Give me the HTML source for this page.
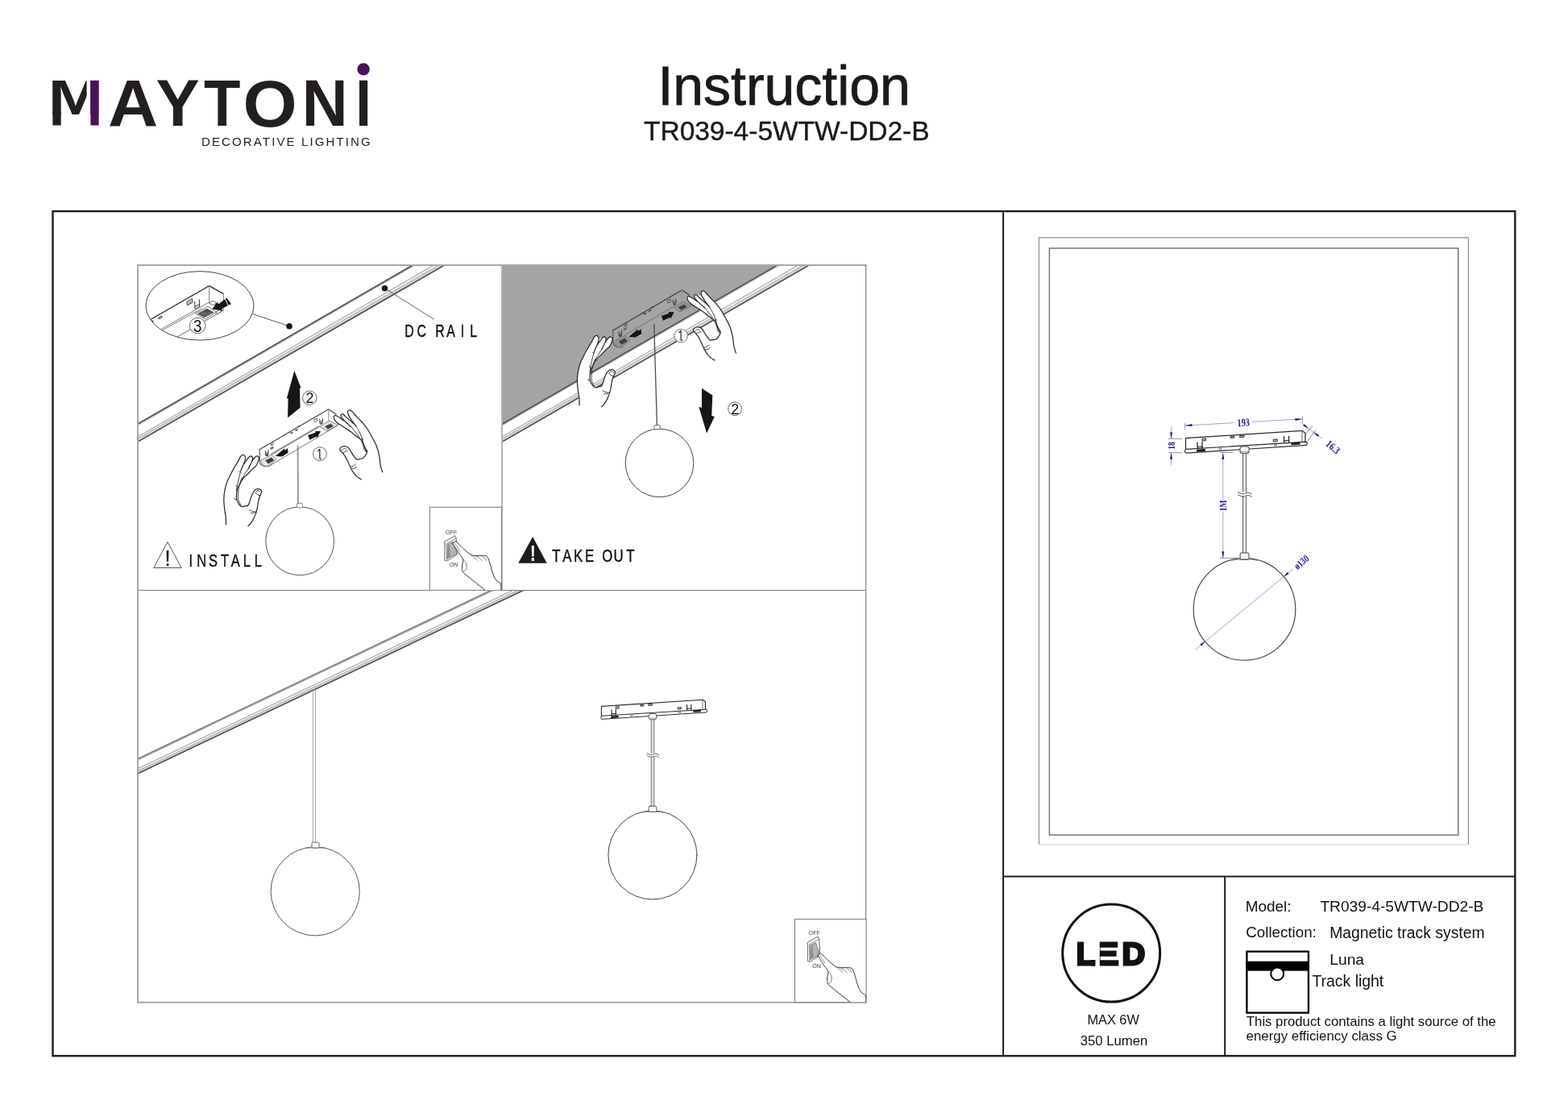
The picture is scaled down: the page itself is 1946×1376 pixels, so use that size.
<!DOCTYPE html>
<html lang="en"><head><meta charset="utf-8"><title>Maytoni Instruction TR039-4-5WTW-DD2-B</title>
<style>
html,body{margin:0;padding:0;background:#fff;}
body{width:1946px;height:1376px;overflow:hidden;font-family:"Liberation Sans",sans-serif;}
svg{display:block;position:absolute;left:0;top:0;will-change:transform;}
</style></head><body>
<svg width="1946" height="1376" viewBox="0 0 1946 1376" font-family='"Liberation Sans", sans-serif'>
<g id="logo">
<text font-family='"Liberation Sans", sans-serif' font-weight="700" fill="#231f20"><tspan x="59.68" y="141.90" font-size="61.01" textLength="68.08" lengthAdjust="spacingAndGlyphs">M</tspan><tspan x="133.92" y="155.50" font-size="80.72" textLength="62.15" lengthAdjust="spacingAndGlyphs">A</tspan><tspan x="193.47" y="155.50" font-size="80.72" textLength="54.32" lengthAdjust="spacingAndGlyphs">Y</tspan><tspan x="252.96" y="155.50" font-size="80.72" textLength="45.46" lengthAdjust="spacingAndGlyphs">T</tspan><tspan x="301.54" y="156.70" font-size="82.17" textLength="67.24" lengthAdjust="spacingAndGlyphs">O</tspan><tspan x="374.78" y="155.50" font-size="80.72" textLength="56.90" lengthAdjust="spacingAndGlyphs">N</tspan><tspan x="441.15" y="155.50" font-size="80.72" textLength="19.66" lengthAdjust="spacingAndGlyphs">I</tspan></text>
<rect x="65.4" y="138" width="10.3" height="17.5" fill="#231f20"/>
<rect x="107.6" y="99.3" width="4.6" height="57" fill="#fff"/>
<rect x="112.4" y="99.8" width="10.2" height="55.7" fill="#4b1259"/>
<circle cx="451.1" cy="85.9" r="7.7" fill="#4b1259"/>
<text x="249.99" y="181.00" font-family='"Liberation Sans", sans-serif' font-weight="400" font-size="15.07" letter-spacing="2.091" fill="#231f20" >DECORATIVE LIGHTING</text>
</g>
<text x="816.39" y="129.70" font-family='"Liberation Sans", sans-serif' font-weight="400" font-size="67.94" fill="#1a1a1a" stroke="#1a1a1a" stroke-width="0.8">Instruction</text>
<text x="799.03" y="173.60" font-family='"Liberation Sans", sans-serif' font-weight="400" font-size="33.47" fill="#1a1a1a" stroke="#1a1a1a" stroke-width="0.4">TR039-4-5WTW-DD2-B</text>
<rect x="65.5" y="262.1" width="1814.8" height="1048.0" fill="none" stroke="#1c1c1c" stroke-width="2.4"/>
<line x1="1245.1" y1="262" x2="1245.1" y2="1310" stroke="#1c1c1c" stroke-width="2"/>
<line x1="1245" y1="1087.6" x2="1880" y2="1087.6" stroke="#1c1c1c" stroke-width="2"/>
<line x1="1520.2" y1="1087.6" x2="1520.2" y2="1310" stroke="#1c1c1c" stroke-width="2"/>
<path d="M1289.5 1047.9 V294.9 H1822.4 V1047.9" fill="none" stroke="#8a8a8a" stroke-width="1.1"/>
<path d="M1289.5 1047.9 H1822.4" fill="none" stroke="#dcdcdc" stroke-width="1.1"/>
<rect x="1302.4" y="308" width="507.4" height="728" fill="none" stroke="#777" stroke-width="1.5"/>
<circle cx="1379.2" cy="1182.6" r="60.5" fill="none" stroke="#111" stroke-width="3"/>
<text font-family='"Liberation Sans", sans-serif' font-weight="700" fill="#111" stroke="#111" stroke-width="2.8" stroke-linejoin="miter"><tspan x="1335.85" y="1196.80" font-size="38.12" textLength="23.12" lengthAdjust="spacingAndGlyphs">L</tspan><tspan x="1351.97" y="1196.80" font-size="38.12" textLength="36.45" lengthAdjust="spacingAndGlyphs">E</tspan><tspan x="1392.51" y="1196.80" font-size="38.12" textLength="28.77" lengthAdjust="spacingAndGlyphs">D</tspan></text>
<path d="M1352.5 1165 H1364.8 V1201 H1359.5 V1191.1 H1352.5 Z" fill="#fff"/>
<text x="1349.39" y="1271.00" font-family='"Liberation Sans", sans-serif' font-weight="400" font-size="16.37" fill="#111" >MAX 6W</text>
<text x="1340.73" y="1296.50" font-family='"Liberation Sans", sans-serif' font-weight="400" font-size="16.73" fill="#111" >350 Lumen</text>
<text x="1545.68" y="1130.60" font-family='"Liberation Sans", sans-serif' font-weight="400" font-size="18.94" fill="#111" >Model:</text>
<text x="1638.42" y="1130.90" font-family='"Liberation Sans", sans-serif' font-weight="400" font-size="19.16" fill="#111" >TR039-4-5WTW-DD2-B</text>
<text x="1546.26" y="1163.30" font-family='"Liberation Sans", sans-serif' font-weight="400" font-size="18.76" fill="#111" >Collection:</text>
<text x="1650.25" y="1163.80" font-family='"Liberation Sans", sans-serif' font-weight="400" font-size="19.34" fill="#111" >Magnetic track system</text>
<text x="1650.26" y="1196.50" font-family='"Liberation Sans", sans-serif' font-weight="400" font-size="19.25" fill="#111" >Luna</text>
<text x="1628.41" y="1224.00" font-family='"Liberation Sans", sans-serif' font-weight="400" font-size="19.43" fill="#111" >Track light</text>
<text x="1546.87" y="1272.90" font-family='"Liberation Sans", sans-serif' font-weight="400" font-size="16.74" fill="#111" >This product contains a light source of the</text>
<text x="1546.53" y="1290.60" font-family='"Liberation Sans", sans-serif' font-weight="400" font-size="16.87" fill="#111" >energy efficiency class G</text>
<rect x="1547.4" y="1180.6" width="76.5" height="76" fill="#fff" stroke="#000" stroke-width="2.3"/>
<rect x="1546.2" y="1192.7" width="78.8" height="11.9" fill="#000"/>
<circle cx="1585.2" cy="1208.3" r="7.9" fill="#fff" stroke="#000" stroke-width="2"/>
<defs>
<clipPath id="cp1"><rect x="171" y="329" width="451.4" height="403.4"/></clipPath>
<clipPath id="cp2"><rect x="622.4" y="329" width="452.4" height="403.4"/></clipPath>
<clipPath id="cp3"><rect x="171" y="732.4" width="903.8" height="511.3"/></clipPath>





</defs>
<g clip-path="url(#cp1)">
<g><polygon points="131.0,565.0 578.2,305.8 591.6,306.0 131.0,571.1" fill="#eef0f2"/>
<polygon points="131.0,567.5 584.5,305.9 591.6,306.0 131.0,571.1" fill="#d2d5da"/>
<line x1="131.0" y1="550.8" x2="551.8" y2="307.8" stroke="#c9c9c9" stroke-width="1.5"/>
<line x1="131.0" y1="549.2" x2="551.8" y2="306.2" stroke="#505050" stroke-width="1.7"/>
<line x1="131.0" y1="565.0" x2="578.2" y2="305.8" stroke="#9a9a9a" stroke-width="1.0"/>
<line x1="131.0" y1="567.5" x2="584.5" y2="305.9" stroke="#a6a8ab" stroke-width="1.0"/>
<line x1="131.0" y1="571.1" x2="591.6" y2="306.0" stroke="#4a4a4a" stroke-width="1.6"/></g>
</g>
<g clip-path="url(#cp1)">
<clipPath id="cpe"><ellipse cx="248" cy="379.35" rx="66.5" ry="42.2"/></clipPath>
<g clip-path="url(#cpe)" fill="none" stroke-linecap="round" stroke-linejoin="round">
<path d="M180.4 400.1 L259.6 354.6 L277.4 364.6" stroke="#333" stroke-width="1.3"/>
<path d="M259.6 354.6 L259.6 376.4" stroke="#8a8a8a" stroke-width="1.1"/>
<path d="M277.4 364.6 L277.4 385.3" stroke="#8a8a8a" stroke-width="1.1"/>
<path d="M200.4 408.2 L258.9 375.3" stroke="#666" stroke-width="0.9"/>
<path d="M201.5 409.7 L250.0 383.1" stroke="#666" stroke-width="0.9"/>
<path d="M217.4 419.5 L276.6 385.4" stroke="#555" stroke-width="0.9"/>
<ellipse cx="264.1" cy="375.8" rx="3.6" ry="2.2" stroke="#999" stroke-width="1.3"/>
<path d="M243.0 388.6 L257.8 380.5 L269.2 387.1 L254.8 395.8 Z" stroke="#666" stroke-width="0.9" fill="#fff"/>
<path d="M245.9 389.1 L257.0 383.2 L265.2 387.6 L253.8 393.8 Z" stroke="#333" stroke-width="0.6" fill="#4a4a4a"/>
<path d="M248.9 387.5 L254.1 392.3" stroke="#ddd" stroke-width="0.5"/>
<path d="M252.0 387.5 L257.2 392.3" stroke="#ddd" stroke-width="0.5"/>
<path d="M255.1 387.5 L260.3 392.3" stroke="#ddd" stroke-width="0.5"/>
<path d="M258.2 387.5 L263.4 392.3" stroke="#ddd" stroke-width="0.5"/>
<path d="M261.3 387.5 L266.5 392.3" stroke="#ddd" stroke-width="0.5"/>
<path d="M267.8 387.1 L272.9 383.8 L275.2 385.3 L270.7 389.0 Z" stroke="#444" stroke-width="0.8" fill="#fff"/>
<path d="M263.2 383.6 L269.4 374.9 L271.5 377.3 L281.4 369.4 L286.8 376.9 L275.5 383.1 L276.0 385.4 Z" fill="#151515" stroke="none"/>
<path d="M279.4 371.1 L283.4 379.4" stroke="#fff" stroke-width="1.0"/>
<path d="M241.6 374.5 L242.0 383.1 L247.6 380.5 L247.3 371.6" stroke="#333" stroke-width="1.0"/>
<path d="M241.9 380.1 L247.5 377.9" stroke="#333" stroke-width="1.0"/>
<path d="M232.4 373.8 L238.5 370.6 L238.7 375.7 L232.6 378.6 Z" stroke="#333" stroke-width="1.0"/>
<path d="M234.5 374.5 L236.8 373.4 L237.0 375.3 L234.6 376.4 Z" stroke="#444" stroke-width="0.7"/>
<path d="M196.9 394.0 L200.8 391.9 L201.0 393.8 L197.1 395.6 Z" stroke="#333" stroke-width="1.0"/>
<path d="M188.6 397.9 L190.1 399.0" stroke="#333" stroke-width="1.5"/>
</g>
<ellipse cx="248" cy="379.35" rx="67" ry="42.75" fill="none" stroke="#444" stroke-width="1"/>
<circle cx="245.2" cy="404.1" r="9.8" fill="#fff" stroke="#555" stroke-width="0.9"/>
<text transform="translate(239.83,411.90) scale(0.8693,1)" font-family='"Liberation Sans", sans-serif' font-weight="400" font-size="22.03" fill="#111" >3</text>
<line x1="313.5" y1="389.5" x2="359" y2="404.7" stroke="#444" stroke-width="0.9"/>
<circle cx="359" cy="404.7" r="3.8" fill="#161616"/>
<line x1="477.5" y1="357.7" x2="538.6" y2="396.2" stroke="#555" stroke-width="0.9"/>
<circle cx="477.5" cy="357.7" r="3.7" fill="#161616"/>
<text transform="translate(507.88,417.50) scale(0.7075,1)" x="0.00 21.85 28.92 53.99 73.04 93.29 112.90" text-anchor="middle" font-family='"Liberation Sans", sans-serif' font-weight="400" font-size="22.46" fill="#111" stroke="#111" stroke-width="0.45" xml:space="preserve">DC RAIL</text>
<polygon points="365.3,460.1 373.6,481.6 372.0,481.6 372.6,505.8 357.1,518.2 357.6,494.4 355.8,494.6" fill="#161616"/>
<circle cx="384.3" cy="493.8" r="8.7" fill="#fff" stroke="#555" stroke-width="0.9"/>
<text transform="translate(379.41,500.20) scale(0.9762,1)" font-family='"Liberation Sans", sans-serif' font-weight="400" font-size="18.26" fill="#111" >2</text>
<line x1="369.6" y1="553" x2="369.9" y2="625" stroke="#9b9b9b" stroke-width="2"/>
<circle cx="372.2" cy="671.3" r="42.4" fill="#fff" stroke="#555" stroke-width="1"/>
<rect x="368.4" y="624.4" width="7" height="5.6" rx="1" fill="#fff" stroke="#777" stroke-width="0.9"/>
<g fill="none" stroke-linecap="round" stroke-linejoin="round">
<path d="M322.1 557.8 L407.8 507.8 L417.0 514.0" stroke="#4a4a4a" stroke-width="1.3"/>
<path d="M322.1 557.8 L322.4 574.2 L324.1 576.8 L328.0 578.6 L333.9 578.3" stroke="#555" stroke-width="1.1"/>
<path d="M407.8 507.8 L407.8 521.9" stroke="#999" stroke-width="1.2"/>
<path d="M337.2 563.4 L395.4 529.4" stroke="#8a8a8a" stroke-width="1.8"/>
<path d="M323.4 571.3 L337.2 564.1 L343.0 569.9 L333.2 578.6 L327.4 578.3 Z" stroke="#777" stroke-width="0.9" fill="#000" fill-opacity="0.1"/>
<path d="M329.6 571.3 L336.8 567.7 L340.1 571.3 L332.9 575.2 Z" fill="#3c3c3c" stroke="#555" stroke-width="0.6"/>
<path d="M396.7 528.7 L409.1 522.2 L419.6 527.4 L405.8 534.6 Z" stroke="#777" stroke-width="0.9" fill="#000" fill-opacity="0.1"/>
<path d="M403.5 529.1 L410.4 525.8 L413.7 528.7 L406.8 532.3 Z" fill="#3c3c3c" stroke="#555" stroke-width="0.6"/>
<path d="M341.7 566.0 L352.9 556.4 L353.6 558.8 L356.8 555.9 L357.6 561.8 L350.2 566.5 Z" fill="#151515" stroke="none"/>
<path d="M398.0 535.1 L391.1 535.0 L391.6 536.7 L382.2 540.0 L384.3 545.7 L392.9 541.7 L393.8 543.1 Z" fill="#151515" stroke="none"/>
<path d="M336.6 549.7 L336.6 552.8 L339.0 552.0 L339.0 549.0" stroke="#444" stroke-width="0.9"/>
<path d="M329.4 559.5 L329.7 565.0" stroke="#444" stroke-width="0.9"/>
<path d="M332.9 557.8 L333.1 563.4" stroke="#444" stroke-width="0.9"/>
<path d="M329.7 562.4 L333.1 560.9" stroke="#444" stroke-width="0.9"/>
<path d="M396.7 519.9 L396.9 525.1" stroke="#444" stroke-width="0.9"/>
<path d="M400.3 518.6 L400.5 523.5" stroke="#444" stroke-width="0.9"/>
<path d="M396.9 522.9 L400.5 521.5" stroke="#444" stroke-width="0.9"/>
<path d="M335.3 555.6 L339.5 553.7 L339.6 556.2 L335.5 558.2 Z" fill="#666" stroke="none"/>
<path d="M330.0 563.4 L332.9 562.1 L333.0 565.4 L330.1 566.3 Z" fill="#444" stroke="none"/>
<path d="M397.2 524.2 L400.3 522.9 L400.5 525.8 L397.3 526.8 Z" fill="#555" stroke="none"/>
<path d="M360.8 537.6 L363.0 536.6" stroke="#333" stroke-width="1.3"/>
<path d="M366.9 534.1 L369.1 532.7" stroke="#333" stroke-width="1.3"/>
<path d="M370.2 529.3 L371.8 528.7" stroke="#333" stroke-width="1.3"/>
<path d="M357.8 536.6 L359.4 535.9" stroke="#333" stroke-width="1.0"/>
<ellipse cx="391.9" cy="521.4" rx="2.4" ry="1.6" transform="rotate(-30 391.9 521.4)" stroke="#555" stroke-width="0.9"/>
</g><g fill="none">
<path d="M333.9 578.3 L419.6 527.6" stroke="#777" stroke-width="1.0"/>
</g>
<g>
<path d="M280.4 650.6 L280.3 642.2 L278.7 631.8 L277.8 619.8 L278.6 610.3 L281.4 599.1 L285.4 590.3 L291.0 579.9 L295.8 571.9 L298.8 566.1 L301.0 564.3 L303.4 565.1 L304.6 567.9 L303.9 571.9 L301.8 577.1 L299.0 583.9 L312.6 572.3 L316.6 567.2 L319.4 565.9 L321.4 567.7 L320.7 571.9 L317.8 577.9 L313.4 581.9 L307.4 588.3 L301.0 594.3 L297.0 602.3 L294.3 607.5 L293.5 618.2 L295.0 623.0 L297.8 627.0 L300.6 628.8 L304.6 627.7 L307.9 627.0 L310.2 621.4 L312.6 614.2 L315.8 608.8 L319.1 606.7 L323.0 607.1 L324.7 609.3 L323.9 612.6 L321.5 618.2 L320.2 624.6 L319.0 631.8 L317.4 637.4 L315.0 643.0 L311.8 648.6 L307.9 652.6 Z" fill="#fff"/>
<path d="M303.0 575.5 C303.5 574.7 305.1 572.1 306.2 570.7 C307.2 569.2 308.5 567.5 309.4 566.7 C310.2 565.9 310.7 565.7 311.4 565.8 C312.0 565.9 313.1 566.6 313.4 567.5 C313.7 568.4 313.6 569.7 313.2 571.1 C312.8 572.5 311.8 574.1 311.0 575.9 C310.1 577.6 308.6 580.5 308.2 581.5 Z" fill="#fff"/>
<path d="M299.0 583.9 L301.8 577.1 L304.6 567.9 L309.4 566.7 L313.4 567.5 L312.6 572.3 L308.2 581.5 L303.0 589.5 Z" fill="#fff"/>
<path d="M280.4 650.6 C280.4 649.2 280.6 645.4 280.3 642.2 C280.0 639.1 279.1 635.6 278.7 631.8 C278.3 628.1 277.8 623.4 277.8 619.8 C277.8 616.2 278.0 613.7 278.6 610.3 C279.2 606.8 280.3 602.4 281.4 599.1 C282.5 595.7 283.8 593.5 285.4 590.3 C287.0 587.1 289.2 582.9 291.0 579.9 C292.7 576.8 294.5 574.2 295.8 571.9 C297.1 569.6 297.9 567.4 298.8 566.1 C299.7 564.9 300.2 564.5 301.0 564.3 C301.7 564.1 302.8 564.5 303.4 565.1 C304.0 565.7 304.5 566.8 304.6 567.9 C304.7 569.0 304.4 570.3 303.9 571.9 C303.5 573.4 302.6 575.1 301.8 577.1 C300.9 579.1 299.4 582.7 299.0 583.9" fill="none" stroke="#2a2a2a" stroke-width="1.25" stroke-linecap="round" stroke-linejoin="round"/>
<path d="M303.0 575.5 C303.5 574.7 305.1 572.1 306.2 570.7 C307.2 569.2 308.5 567.5 309.4 566.7 C310.2 565.9 310.7 565.7 311.4 565.8 C312.0 565.9 313.1 566.6 313.4 567.5 C313.7 568.4 313.6 569.7 313.2 571.1 C312.8 572.5 311.8 574.1 311.0 575.9 C310.1 577.6 308.6 580.5 308.2 581.5" fill="none" stroke="#2a2a2a" stroke-width="1.25" stroke-linecap="round" stroke-linejoin="round"/>
<path d="M312.6 572.3 C313.2 571.4 315.4 568.3 316.6 567.2 C317.7 566.2 318.6 565.8 319.4 565.9 C320.2 566.0 321.1 566.7 321.4 567.7 C321.6 568.7 321.3 570.2 320.7 571.9 C320.1 573.6 319.0 576.2 317.8 577.9 C316.5 579.5 315.1 580.1 313.4 581.9 C311.6 583.6 309.4 586.2 307.4 588.3 C305.3 590.3 302.7 591.9 301.0 594.3 C299.2 596.6 298.1 600.1 297.0 602.3 C295.9 604.5 294.9 604.8 294.3 607.5 C293.8 610.1 293.4 615.6 293.5 618.2 C293.6 620.8 294.3 621.6 295.0 623.0 C295.7 624.5 296.8 626.1 297.8 627.0 C298.7 628.0 299.4 628.7 300.6 628.8 C301.7 628.9 303.3 628.0 304.6 627.7 C305.8 627.4 307.0 628.1 307.9 627.0 C308.9 626.0 309.4 623.6 310.2 621.4 C310.9 619.3 311.6 616.4 312.6 614.2 C313.5 612.1 314.7 610.1 315.8 608.8 C316.8 607.5 317.9 606.9 319.1 606.7 C320.3 606.4 322.0 606.6 323.0 607.1 C323.9 607.5 324.5 608.4 324.7 609.3 C324.9 610.2 324.4 611.2 323.9 612.6 C323.4 614.1 322.1 616.2 321.5 618.2 C320.9 620.2 320.7 622.4 320.2 624.6 C319.8 626.9 319.4 629.7 319.0 631.8 C318.5 634.0 318.0 635.6 317.4 637.4 C316.7 639.3 315.9 641.2 315.0 643.0 C314.0 644.9 312.9 647.0 311.8 648.6 C310.6 650.2 308.6 652.0 307.9 652.6" fill="none" stroke="#2a2a2a" stroke-width="1.25" stroke-linecap="round" stroke-linejoin="round"/>
<path d="M299.0 583.9 C298.6 585.3 297.3 589.5 296.6 592.7 C295.8 595.9 294.8 600.4 294.3 603.1 C293.8 605.7 293.7 607.7 293.5 608.7" fill="none" stroke="#2a2a2a" stroke-width="0.9" stroke-linecap="round"/>
<path d="M308.2 581.5 C307.3 582.8 304.5 587.1 303.0 589.5 C301.4 591.9 300.0 593.6 299.0 595.9 C297.9 598.1 297.1 600.5 296.6 603.1 C296.0 605.6 295.9 608.3 295.8 611.0 C295.6 613.8 295.2 617.2 295.8 619.8 C296.3 622.4 298.4 625.5 299.0 626.6" fill="none" stroke="#2a2a2a" stroke-width="0.9" stroke-linecap="round"/>
<path d="M297.0 585.1 L299.0 586.1" fill="none" stroke="#2a2a2a" stroke-width="0.9" stroke-linecap="round"/>
<path d="M299.6 593.9 L301.8 595.1" fill="none" stroke="#2a2a2a" stroke-width="0.9" stroke-linecap="round"/>
<path d="M292.7 602.4 L294.6 603.9" fill="none" stroke="#2a2a2a" stroke-width="0.9" stroke-linecap="round"/>
<path d="M290.8 618.9 L293.8 620.2" fill="none" stroke="#2a2a2a" stroke-width="0.9" stroke-linecap="round"/>
<path d="M318.6 612.8 L322.8 615.2" fill="none" stroke="#2a2a2a" stroke-width="0.9" stroke-linecap="round"/>
<path d="M317.4 611.8 C317.6 611.3 318.2 609.0 319.1 608.7 C320.0 608.3 322.2 609.7 322.8 609.9" fill="none" stroke="#2a2a2a" stroke-width="0.9" stroke-linecap="round"/>
<path d="M309.4 632.5 C310.0 632.8 312.0 634.2 313.4 634.6 C314.8 635.1 317.0 635.1 317.8 635.2" fill="none" stroke="#2a2a2a" stroke-width="0.9" stroke-linecap="round"/>
<path d="M311.1 636.8 C311.7 636.7 313.4 636.7 314.3 636.5 C315.3 636.2 316.3 635.6 316.7 635.4" fill="none" stroke="#2a2a2a" stroke-width="0.9" stroke-linecap="round"/>
</g><g>
<path d="M474.7 585.8 L472.3 577.8 L470.7 565.8 L467.5 553.9 L461.9 542.7 L455.5 531.5 L449.1 523.5 L442.7 517.1 L437.9 511.6 L435.0 509.1 L432.6 509.3 L431.4 511.3 L432.6 515.1 L436.2 521.2 L441.4 528.1 L426.6 521.9 L421.8 518.5 L417.9 516.0 L415.4 515.6 L414.2 517.5 L415.4 521.1 L418.6 524.7 L426.6 529.9 L436.2 536.3 L442.6 541.5 L447.4 545.2 L449.9 549.1 L452.3 553.9 L455.5 560.3 L453.9 564.2 L451.4 567.6 L449.0 569.0 L445.8 569.6 L442.6 570.0 L440.2 567.4 L437.0 562.6 L434.6 558.7 L432.2 555.6 L429.6 554.0 L425.8 553.9 L423.1 555.1 L421.8 557.5 L423.1 559.9 L425.8 562.6 L429.0 567.4 L432.2 573.8 L435.4 581.0 L439.4 587.4 L443.4 591.8 L448.3 594.8 Z" fill="#fff"/>
<path d="M439.4 525.9 C438.6 525.2 436.3 523.4 434.6 521.9 C432.8 520.4 430.4 518.3 429.0 516.9 C427.5 515.6 426.8 514.4 425.9 513.9 C425.1 513.4 424.3 513.7 423.8 514.0 C423.3 514.4 422.8 515.1 423.0 516.0 C423.2 516.9 423.8 518.1 425.0 519.5 C426.1 520.9 427.9 522.5 429.8 524.3 C431.6 526.0 435.1 528.9 436.2 529.9 Z" fill="#fff"/>
<path d="M441.4 528.1 L436.2 521.2 L432.6 515.1 L426.6 513.9 L425.0 519.5 L429.8 524.3 L436.2 529.9 L442.6 537.9 L447.4 545.1 L449.0 542.7 Z" fill="#fff"/>
<path d="M474.7 585.8 C474.3 584.5 473.0 581.2 472.3 577.8 C471.6 574.5 471.5 569.8 470.7 565.8 C469.9 561.8 469.0 557.7 467.5 553.9 C466.0 550.0 463.9 546.4 461.9 542.7 C459.9 538.9 457.6 534.7 455.5 531.5 C453.4 528.3 451.2 525.9 449.1 523.5 C447.0 521.1 444.6 519.1 442.7 517.1 C440.9 515.1 439.2 513.0 437.9 511.6 C436.6 510.3 435.9 509.5 435.0 509.1 C434.1 508.7 433.2 508.9 432.6 509.3 C432.0 509.6 431.4 510.4 431.4 511.3 C431.4 512.3 431.8 513.4 432.6 515.1 C433.4 516.7 434.7 519.1 436.2 521.2 C437.6 523.4 440.5 527.0 441.4 528.1" fill="none" stroke="#2a2a2a" stroke-width="1.25" stroke-linecap="round" stroke-linejoin="round"/>
<path d="M439.4 525.9 C438.6 525.2 436.3 523.4 434.6 521.9 C432.8 520.4 430.4 518.3 429.0 516.9 C427.5 515.6 426.8 514.4 425.9 513.9 C425.1 513.4 424.3 513.7 423.8 514.0 C423.3 514.4 422.8 515.1 423.0 516.0 C423.2 516.9 423.8 518.1 425.0 519.5 C426.1 520.9 427.9 522.5 429.8 524.3 C431.6 526.0 435.1 528.9 436.2 529.9" fill="none" stroke="#2a2a2a" stroke-width="1.25" stroke-linecap="round" stroke-linejoin="round"/>
<path d="M426.6 521.9 C425.8 521.3 423.2 519.5 421.8 518.5 C420.3 517.5 419.0 516.4 417.9 516.0 C416.9 515.5 416.0 515.4 415.4 515.6 C414.8 515.9 414.2 516.6 414.2 517.5 C414.2 518.4 414.6 519.9 415.4 521.1 C416.1 522.3 416.7 523.2 418.6 524.7 C420.4 526.1 423.6 527.9 426.6 529.9 C429.5 531.8 433.5 534.3 436.2 536.3 C438.8 538.2 440.7 540.0 442.6 541.5 C444.4 543.0 446.1 544.0 447.4 545.2 C448.6 546.5 449.1 547.6 449.9 549.1 C450.7 550.5 451.4 552.0 452.3 553.9 C453.2 555.7 455.2 558.5 455.5 560.3 C455.8 562.0 454.6 563.0 453.9 564.2 C453.2 565.5 452.2 566.8 451.4 567.6 C450.5 568.4 449.9 568.7 449.0 569.0 C448.0 569.4 446.8 569.4 445.8 569.6 C444.7 569.8 443.5 570.4 442.6 570.0 C441.6 569.6 441.1 568.7 440.2 567.4 C439.2 566.2 437.9 564.1 437.0 562.6 C436.0 561.2 435.4 559.8 434.6 558.7 C433.8 557.5 433.0 556.4 432.2 555.6 C431.3 554.8 430.7 554.3 429.6 554.0 C428.5 553.7 426.9 553.7 425.8 553.9 C424.7 554.0 423.7 554.5 423.1 555.1 C422.4 555.7 421.8 556.6 421.8 557.5 C421.8 558.3 422.4 559.1 423.1 559.9 C423.7 560.8 424.8 561.4 425.8 562.6 C426.8 563.9 427.9 565.6 429.0 567.4 C430.0 569.3 431.1 571.6 432.2 573.8 C433.2 576.1 434.2 578.8 435.4 581.0 C436.6 583.3 438.0 585.6 439.4 587.4 C440.7 589.2 441.9 590.6 443.4 591.8 C444.9 593.1 447.5 594.3 448.3 594.8" fill="none" stroke="#2a2a2a" stroke-width="1.25" stroke-linecap="round" stroke-linejoin="round"/>
<path d="M441.4 528.1 C442.1 529.3 444.5 533.0 445.8 535.5 C447.0 537.9 448.1 540.3 449.0 542.7 C449.8 545.1 450.3 547.5 451.0 549.9 C451.6 552.3 452.4 555.2 453.0 557.1 C453.6 558.9 454.3 560.4 454.5 561.0" fill="none" stroke="#2a2a2a" stroke-width="0.9" stroke-linecap="round"/>
<path d="M436.2 529.9 C437.2 531.2 440.7 535.3 442.6 537.9 C444.4 540.4 446.6 543.9 447.4 545.1" fill="none" stroke="#2a2a2a" stroke-width="0.9" stroke-linecap="round"/>
<path d="M449.0 545.1 C449.2 546.3 450.0 550.0 450.6 552.3 C451.1 554.5 451.9 557.6 452.2 558.7" fill="none" stroke="#2a2a2a" stroke-width="0.9" stroke-linecap="round"/>
<path d="M440.2 527.6 L442.6 528.7" fill="none" stroke="#2a2a2a" stroke-width="0.9" stroke-linecap="round"/>
<path d="M448.6 543.9 L450.6 544.9" fill="none" stroke="#2a2a2a" stroke-width="0.9" stroke-linecap="round"/>
<path d="M453.4 559.9 L456.1 559.1" fill="none" stroke="#2a2a2a" stroke-width="0.9" stroke-linecap="round"/>
<path d="M423.4 559.5 C423.9 559.0 425.5 557.0 426.6 556.7 C427.6 556.3 429.2 557.3 429.8 557.5" fill="none" stroke="#2a2a2a" stroke-width="0.9" stroke-linecap="round"/>
<path d="M425.8 561.8 C426.3 561.5 428.0 560.3 429.0 559.9 C429.9 559.5 431.0 559.5 431.4 559.5" fill="none" stroke="#2a2a2a" stroke-width="0.9" stroke-linecap="round"/>
<path d="M435.0 579.4 C435.6 579.2 437.5 578.8 438.6 578.2 C439.6 577.6 440.9 576.2 441.4 575.8" fill="none" stroke="#2a2a2a" stroke-width="0.9" stroke-linecap="round"/>
<path d="M437.0 581.4 C437.5 581.4 439.2 581.4 440.2 581.0 C441.1 580.7 442.2 579.7 442.6 579.4" fill="none" stroke="#2a2a2a" stroke-width="0.9" stroke-linecap="round"/>
</g>
<circle cx="397" cy="563.2" r="8.4" fill="#fff" stroke="#555" stroke-width="0.9"/>
<text transform="translate(392.96,569.60) scale(0.7132,1)" font-family='"Liberation Sans", sans-serif' font-weight="400" font-size="18.26" fill="#111" >1</text>
<rect x="393" y="568.2" width="3.7" height="1.9" fill="#fff"/><rect x="398.5" y="568.2" width="2.5" height="1.9" fill="#fff"/>
<polygon points="207.9,672.4 225.3,704.5 190.8,704.5" fill="#fff" stroke="#555" stroke-width="1"/>
<text transform="translate(204.09,701.90) scale(1.0314,1)" font-family='"Liberation Sans", sans-serif' font-weight="400" font-size="28.12" fill="#111" >!</text>
<text transform="translate(236.88,702.80) scale(0.7458,1)" x="0.00 17.88 37.00 56.48 74.39 93.27 111.91" text-anchor="middle" font-family='"Liberation Sans", sans-serif' font-weight="400" font-size="22.03" fill="#111" stroke="#111" stroke-width="0.45" xml:space="preserve">INSTALL</text>
</g>
<g clip-path="url(#cp2)">
<polygon points="622.4,329 963.5,329 622.4,526.4" fill="#a3a4a6"/>
<g transform="translate(451.7,0.4)"><g><polygon points="131.0,565.0 578.2,305.8 591.6,306.0 131.0,571.1" fill="#eef0f2"/>
<polygon points="131.0,567.5 584.5,305.9 591.6,306.0 131.0,571.1" fill="#d2d5da"/>
<line x1="131.0" y1="550.8" x2="551.8" y2="307.8" stroke="#c9c9c9" stroke-width="1.5"/>
<line x1="131.0" y1="549.2" x2="551.8" y2="306.2" stroke="#505050" stroke-width="1.7"/>
<line x1="131.0" y1="565.0" x2="578.2" y2="305.8" stroke="#9a9a9a" stroke-width="1.0"/>
<line x1="131.0" y1="567.5" x2="584.5" y2="305.9" stroke="#a6a8ab" stroke-width="1.0"/>
<line x1="131.0" y1="571.1" x2="591.6" y2="306.0" stroke="#4a4a4a" stroke-width="1.6"/></g></g>
<line x1="811.7" y1="402" x2="815.4" y2="528" stroke="#4d4d4d" stroke-width="1.3"/>
<circle cx="818.5" cy="574.4" r="42.3" fill="#fff" stroke="#444" stroke-width="1"/>
<rect x="812" y="527.6" width="7.2" height="5.2" rx="1" fill="#fff" stroke="#555" stroke-width="0.9"/>
<g transform="translate(438.6,-147.9)"><g fill="none" stroke-linecap="round" stroke-linejoin="round">
<path d="M322.1 557.8 L407.8 507.8 L417.0 514.0" stroke="#4a4a4a" stroke-width="1.3"/>
<path d="M322.1 557.8 L322.4 574.2 L324.1 576.8 L328.0 578.6 L333.9 578.3" stroke="#555" stroke-width="1.1"/>
<path d="M407.8 507.8 L407.8 521.9" stroke="#999" stroke-width="1.2"/>
<path d="M337.2 563.4 L395.4 529.4" stroke="#8a8a8a" stroke-width="1.8"/>
<path d="M323.4 571.3 L337.2 564.1 L343.0 569.9 L333.2 578.6 L327.4 578.3 Z" stroke="#777" stroke-width="0.9" fill="#000" fill-opacity="0.1"/>
<path d="M329.6 571.3 L336.8 567.7 L340.1 571.3 L332.9 575.2 Z" fill="#3c3c3c" stroke="#555" stroke-width="0.6"/>
<path d="M396.7 528.7 L409.1 522.2 L419.6 527.4 L405.8 534.6 Z" stroke="#777" stroke-width="0.9" fill="#000" fill-opacity="0.1"/>
<path d="M403.5 529.1 L410.4 525.8 L413.7 528.7 L406.8 532.3 Z" fill="#3c3c3c" stroke="#555" stroke-width="0.6"/>
<path d="M341.7 566.0 L352.9 556.4 L353.6 558.8 L356.8 555.9 L357.6 561.8 L350.2 566.5 Z" fill="#151515" stroke="none"/>
<path d="M398.0 535.1 L391.1 535.0 L391.6 536.7 L382.2 540.0 L384.3 545.7 L392.9 541.7 L393.8 543.1 Z" fill="#151515" stroke="none"/>
<path d="M336.6 549.7 L336.6 552.8 L339.0 552.0 L339.0 549.0" stroke="#444" stroke-width="0.9"/>
<path d="M329.4 559.5 L329.7 565.0" stroke="#444" stroke-width="0.9"/>
<path d="M332.9 557.8 L333.1 563.4" stroke="#444" stroke-width="0.9"/>
<path d="M329.7 562.4 L333.1 560.9" stroke="#444" stroke-width="0.9"/>
<path d="M396.7 519.9 L396.9 525.1" stroke="#444" stroke-width="0.9"/>
<path d="M400.3 518.6 L400.5 523.5" stroke="#444" stroke-width="0.9"/>
<path d="M396.9 522.9 L400.5 521.5" stroke="#444" stroke-width="0.9"/>
<path d="M335.3 555.6 L339.5 553.7 L339.6 556.2 L335.5 558.2 Z" fill="#666" stroke="none"/>
<path d="M330.0 563.4 L332.9 562.1 L333.0 565.4 L330.1 566.3 Z" fill="#444" stroke="none"/>
<path d="M397.2 524.2 L400.3 522.9 L400.5 525.8 L397.3 526.8 Z" fill="#555" stroke="none"/>
<path d="M360.8 537.6 L363.0 536.6" stroke="#333" stroke-width="1.3"/>
<path d="M366.9 534.1 L369.1 532.7" stroke="#333" stroke-width="1.3"/>
<path d="M370.2 529.3 L371.8 528.7" stroke="#333" stroke-width="1.3"/>
<path d="M357.8 536.6 L359.4 535.9" stroke="#333" stroke-width="1.0"/>
<ellipse cx="391.9" cy="521.4" rx="2.4" ry="1.6" transform="rotate(-30 391.9 521.4)" stroke="#555" stroke-width="0.9"/>
</g><g>
<path d="M280.4 650.6 L280.3 642.2 L278.7 631.8 L277.8 619.8 L278.6 610.3 L281.4 599.1 L285.4 590.3 L291.0 579.9 L295.8 571.9 L298.8 566.1 L301.0 564.3 L303.4 565.1 L304.6 567.9 L303.9 571.9 L301.8 577.1 L299.0 583.9 L312.6 572.3 L316.6 567.2 L319.4 565.9 L321.4 567.7 L320.7 571.9 L317.8 577.9 L313.4 581.9 L307.4 588.3 L301.0 594.3 L297.0 602.3 L294.3 607.5 L293.5 618.2 L295.0 623.0 L297.8 627.0 L300.6 628.8 L304.6 627.7 L307.9 627.0 L310.2 621.4 L312.6 614.2 L315.8 608.8 L319.1 606.7 L323.0 607.1 L324.7 609.3 L323.9 612.6 L321.5 618.2 L320.2 624.6 L319.0 631.8 L317.4 637.4 L315.0 643.0 L311.8 648.6 L307.9 652.6 Z" fill="#fff"/>
<path d="M303.0 575.5 C303.5 574.7 305.1 572.1 306.2 570.7 C307.2 569.2 308.5 567.5 309.4 566.7 C310.2 565.9 310.7 565.7 311.4 565.8 C312.0 565.9 313.1 566.6 313.4 567.5 C313.7 568.4 313.6 569.7 313.2 571.1 C312.8 572.5 311.8 574.1 311.0 575.9 C310.1 577.6 308.6 580.5 308.2 581.5 Z" fill="#fff"/>
<path d="M299.0 583.9 L301.8 577.1 L304.6 567.9 L309.4 566.7 L313.4 567.5 L312.6 572.3 L308.2 581.5 L303.0 589.5 Z" fill="#fff"/>
<path d="M280.4 650.6 C280.4 649.2 280.6 645.4 280.3 642.2 C280.0 639.1 279.1 635.6 278.7 631.8 C278.3 628.1 277.8 623.4 277.8 619.8 C277.8 616.2 278.0 613.7 278.6 610.3 C279.2 606.8 280.3 602.4 281.4 599.1 C282.5 595.7 283.8 593.5 285.4 590.3 C287.0 587.1 289.2 582.9 291.0 579.9 C292.7 576.8 294.5 574.2 295.8 571.9 C297.1 569.6 297.9 567.4 298.8 566.1 C299.7 564.9 300.2 564.5 301.0 564.3 C301.7 564.1 302.8 564.5 303.4 565.1 C304.0 565.7 304.5 566.8 304.6 567.9 C304.7 569.0 304.4 570.3 303.9 571.9 C303.5 573.4 302.6 575.1 301.8 577.1 C300.9 579.1 299.4 582.7 299.0 583.9" fill="none" stroke="#2a2a2a" stroke-width="1.25" stroke-linecap="round" stroke-linejoin="round"/>
<path d="M303.0 575.5 C303.5 574.7 305.1 572.1 306.2 570.7 C307.2 569.2 308.5 567.5 309.4 566.7 C310.2 565.9 310.7 565.7 311.4 565.8 C312.0 565.9 313.1 566.6 313.4 567.5 C313.7 568.4 313.6 569.7 313.2 571.1 C312.8 572.5 311.8 574.1 311.0 575.9 C310.1 577.6 308.6 580.5 308.2 581.5" fill="none" stroke="#2a2a2a" stroke-width="1.25" stroke-linecap="round" stroke-linejoin="round"/>
<path d="M312.6 572.3 C313.2 571.4 315.4 568.3 316.6 567.2 C317.7 566.2 318.6 565.8 319.4 565.9 C320.2 566.0 321.1 566.7 321.4 567.7 C321.6 568.7 321.3 570.2 320.7 571.9 C320.1 573.6 319.0 576.2 317.8 577.9 C316.5 579.5 315.1 580.1 313.4 581.9 C311.6 583.6 309.4 586.2 307.4 588.3 C305.3 590.3 302.7 591.9 301.0 594.3 C299.2 596.6 298.1 600.1 297.0 602.3 C295.9 604.5 294.9 604.8 294.3 607.5 C293.8 610.1 293.4 615.6 293.5 618.2 C293.6 620.8 294.3 621.6 295.0 623.0 C295.7 624.5 296.8 626.1 297.8 627.0 C298.7 628.0 299.4 628.7 300.6 628.8 C301.7 628.9 303.3 628.0 304.6 627.7 C305.8 627.4 307.0 628.1 307.9 627.0 C308.9 626.0 309.4 623.6 310.2 621.4 C310.9 619.3 311.6 616.4 312.6 614.2 C313.5 612.1 314.7 610.1 315.8 608.8 C316.8 607.5 317.9 606.9 319.1 606.7 C320.3 606.4 322.0 606.6 323.0 607.1 C323.9 607.5 324.5 608.4 324.7 609.3 C324.9 610.2 324.4 611.2 323.9 612.6 C323.4 614.1 322.1 616.2 321.5 618.2 C320.9 620.2 320.7 622.4 320.2 624.6 C319.8 626.9 319.4 629.7 319.0 631.8 C318.5 634.0 318.0 635.6 317.4 637.4 C316.7 639.3 315.9 641.2 315.0 643.0 C314.0 644.9 312.9 647.0 311.8 648.6 C310.6 650.2 308.6 652.0 307.9 652.6" fill="none" stroke="#2a2a2a" stroke-width="1.25" stroke-linecap="round" stroke-linejoin="round"/>
<path d="M299.0 583.9 C298.6 585.3 297.3 589.5 296.6 592.7 C295.8 595.9 294.8 600.4 294.3 603.1 C293.8 605.7 293.7 607.7 293.5 608.7" fill="none" stroke="#2a2a2a" stroke-width="0.9" stroke-linecap="round"/>
<path d="M308.2 581.5 C307.3 582.8 304.5 587.1 303.0 589.5 C301.4 591.9 300.0 593.6 299.0 595.9 C297.9 598.1 297.1 600.5 296.6 603.1 C296.0 605.6 295.9 608.3 295.8 611.0 C295.6 613.8 295.2 617.2 295.8 619.8 C296.3 622.4 298.4 625.5 299.0 626.6" fill="none" stroke="#2a2a2a" stroke-width="0.9" stroke-linecap="round"/>
<path d="M297.0 585.1 L299.0 586.1" fill="none" stroke="#2a2a2a" stroke-width="0.9" stroke-linecap="round"/>
<path d="M299.6 593.9 L301.8 595.1" fill="none" stroke="#2a2a2a" stroke-width="0.9" stroke-linecap="round"/>
<path d="M292.7 602.4 L294.6 603.9" fill="none" stroke="#2a2a2a" stroke-width="0.9" stroke-linecap="round"/>
<path d="M290.8 618.9 L293.8 620.2" fill="none" stroke="#2a2a2a" stroke-width="0.9" stroke-linecap="round"/>
<path d="M318.6 612.8 L322.8 615.2" fill="none" stroke="#2a2a2a" stroke-width="0.9" stroke-linecap="round"/>
<path d="M317.4 611.8 C317.6 611.3 318.2 609.0 319.1 608.7 C320.0 608.3 322.2 609.7 322.8 609.9" fill="none" stroke="#2a2a2a" stroke-width="0.9" stroke-linecap="round"/>
<path d="M309.4 632.5 C310.0 632.8 312.0 634.2 313.4 634.6 C314.8 635.1 317.0 635.1 317.8 635.2" fill="none" stroke="#2a2a2a" stroke-width="0.9" stroke-linecap="round"/>
<path d="M311.1 636.8 C311.7 636.7 313.4 636.7 314.3 636.5 C315.3 636.2 316.3 635.6 316.7 635.4" fill="none" stroke="#2a2a2a" stroke-width="0.9" stroke-linecap="round"/>
</g><g>
<path d="M474.7 585.8 L472.3 577.8 L470.7 565.8 L467.5 553.9 L461.9 542.7 L455.5 531.5 L449.1 523.5 L442.7 517.1 L437.9 511.6 L435.0 509.1 L432.6 509.3 L431.4 511.3 L432.6 515.1 L436.2 521.2 L441.4 528.1 L426.6 521.9 L421.8 518.5 L417.9 516.0 L415.4 515.6 L414.2 517.5 L415.4 521.1 L418.6 524.7 L426.6 529.9 L436.2 536.3 L442.6 541.5 L447.4 545.2 L449.9 549.1 L452.3 553.9 L455.5 560.3 L453.9 564.2 L451.4 567.6 L449.0 569.0 L445.8 569.6 L442.6 570.0 L440.2 567.4 L437.0 562.6 L434.6 558.7 L432.2 555.6 L429.6 554.0 L425.8 553.9 L423.1 555.1 L421.8 557.5 L423.1 559.9 L425.8 562.6 L429.0 567.4 L432.2 573.8 L435.4 581.0 L439.4 587.4 L443.4 591.8 L448.3 594.8 Z" fill="#fff"/>
<path d="M439.4 525.9 C438.6 525.2 436.3 523.4 434.6 521.9 C432.8 520.4 430.4 518.3 429.0 516.9 C427.5 515.6 426.8 514.4 425.9 513.9 C425.1 513.4 424.3 513.7 423.8 514.0 C423.3 514.4 422.8 515.1 423.0 516.0 C423.2 516.9 423.8 518.1 425.0 519.5 C426.1 520.9 427.9 522.5 429.8 524.3 C431.6 526.0 435.1 528.9 436.2 529.9 Z" fill="#fff"/>
<path d="M441.4 528.1 L436.2 521.2 L432.6 515.1 L426.6 513.9 L425.0 519.5 L429.8 524.3 L436.2 529.9 L442.6 537.9 L447.4 545.1 L449.0 542.7 Z" fill="#fff"/>
<path d="M474.7 585.8 C474.3 584.5 473.0 581.2 472.3 577.8 C471.6 574.5 471.5 569.8 470.7 565.8 C469.9 561.8 469.0 557.7 467.5 553.9 C466.0 550.0 463.9 546.4 461.9 542.7 C459.9 538.9 457.6 534.7 455.5 531.5 C453.4 528.3 451.2 525.9 449.1 523.5 C447.0 521.1 444.6 519.1 442.7 517.1 C440.9 515.1 439.2 513.0 437.9 511.6 C436.6 510.3 435.9 509.5 435.0 509.1 C434.1 508.7 433.2 508.9 432.6 509.3 C432.0 509.6 431.4 510.4 431.4 511.3 C431.4 512.3 431.8 513.4 432.6 515.1 C433.4 516.7 434.7 519.1 436.2 521.2 C437.6 523.4 440.5 527.0 441.4 528.1" fill="none" stroke="#2a2a2a" stroke-width="1.25" stroke-linecap="round" stroke-linejoin="round"/>
<path d="M439.4 525.9 C438.6 525.2 436.3 523.4 434.6 521.9 C432.8 520.4 430.4 518.3 429.0 516.9 C427.5 515.6 426.8 514.4 425.9 513.9 C425.1 513.4 424.3 513.7 423.8 514.0 C423.3 514.4 422.8 515.1 423.0 516.0 C423.2 516.9 423.8 518.1 425.0 519.5 C426.1 520.9 427.9 522.5 429.8 524.3 C431.6 526.0 435.1 528.9 436.2 529.9" fill="none" stroke="#2a2a2a" stroke-width="1.25" stroke-linecap="round" stroke-linejoin="round"/>
<path d="M426.6 521.9 C425.8 521.3 423.2 519.5 421.8 518.5 C420.3 517.5 419.0 516.4 417.9 516.0 C416.9 515.5 416.0 515.4 415.4 515.6 C414.8 515.9 414.2 516.6 414.2 517.5 C414.2 518.4 414.6 519.9 415.4 521.1 C416.1 522.3 416.7 523.2 418.6 524.7 C420.4 526.1 423.6 527.9 426.6 529.9 C429.5 531.8 433.5 534.3 436.2 536.3 C438.8 538.2 440.7 540.0 442.6 541.5 C444.4 543.0 446.1 544.0 447.4 545.2 C448.6 546.5 449.1 547.6 449.9 549.1 C450.7 550.5 451.4 552.0 452.3 553.9 C453.2 555.7 455.2 558.5 455.5 560.3 C455.8 562.0 454.6 563.0 453.9 564.2 C453.2 565.5 452.2 566.8 451.4 567.6 C450.5 568.4 449.9 568.7 449.0 569.0 C448.0 569.4 446.8 569.4 445.8 569.6 C444.7 569.8 443.5 570.4 442.6 570.0 C441.6 569.6 441.1 568.7 440.2 567.4 C439.2 566.2 437.9 564.1 437.0 562.6 C436.0 561.2 435.4 559.8 434.6 558.7 C433.8 557.5 433.0 556.4 432.2 555.6 C431.3 554.8 430.7 554.3 429.6 554.0 C428.5 553.7 426.9 553.7 425.8 553.9 C424.7 554.0 423.7 554.5 423.1 555.1 C422.4 555.7 421.8 556.6 421.8 557.5 C421.8 558.3 422.4 559.1 423.1 559.9 C423.7 560.8 424.8 561.4 425.8 562.6 C426.8 563.9 427.9 565.6 429.0 567.4 C430.0 569.3 431.1 571.6 432.2 573.8 C433.2 576.1 434.2 578.8 435.4 581.0 C436.6 583.3 438.0 585.6 439.4 587.4 C440.7 589.2 441.9 590.6 443.4 591.8 C444.9 593.1 447.5 594.3 448.3 594.8" fill="none" stroke="#2a2a2a" stroke-width="1.25" stroke-linecap="round" stroke-linejoin="round"/>
<path d="M441.4 528.1 C442.1 529.3 444.5 533.0 445.8 535.5 C447.0 537.9 448.1 540.3 449.0 542.7 C449.8 545.1 450.3 547.5 451.0 549.9 C451.6 552.3 452.4 555.2 453.0 557.1 C453.6 558.9 454.3 560.4 454.5 561.0" fill="none" stroke="#2a2a2a" stroke-width="0.9" stroke-linecap="round"/>
<path d="M436.2 529.9 C437.2 531.2 440.7 535.3 442.6 537.9 C444.4 540.4 446.6 543.9 447.4 545.1" fill="none" stroke="#2a2a2a" stroke-width="0.9" stroke-linecap="round"/>
<path d="M449.0 545.1 C449.2 546.3 450.0 550.0 450.6 552.3 C451.1 554.5 451.9 557.6 452.2 558.7" fill="none" stroke="#2a2a2a" stroke-width="0.9" stroke-linecap="round"/>
<path d="M440.2 527.6 L442.6 528.7" fill="none" stroke="#2a2a2a" stroke-width="0.9" stroke-linecap="round"/>
<path d="M448.6 543.9 L450.6 544.9" fill="none" stroke="#2a2a2a" stroke-width="0.9" stroke-linecap="round"/>
<path d="M453.4 559.9 L456.1 559.1" fill="none" stroke="#2a2a2a" stroke-width="0.9" stroke-linecap="round"/>
<path d="M423.4 559.5 C423.9 559.0 425.5 557.0 426.6 556.7 C427.6 556.3 429.2 557.3 429.8 557.5" fill="none" stroke="#2a2a2a" stroke-width="0.9" stroke-linecap="round"/>
<path d="M425.8 561.8 C426.3 561.5 428.0 560.3 429.0 559.9 C429.9 559.5 431.0 559.5 431.4 559.5" fill="none" stroke="#2a2a2a" stroke-width="0.9" stroke-linecap="round"/>
<path d="M435.0 579.4 C435.6 579.2 437.5 578.8 438.6 578.2 C439.6 577.6 440.9 576.2 441.4 575.8" fill="none" stroke="#2a2a2a" stroke-width="0.9" stroke-linecap="round"/>
<path d="M437.0 581.4 C437.5 581.4 439.2 581.4 440.2 581.0 C441.1 580.7 442.2 579.7 442.6 579.4" fill="none" stroke="#2a2a2a" stroke-width="0.9" stroke-linecap="round"/>
</g></g>
<circle cx="845.2" cy="416.6" r="8.2" fill="#fff" stroke="#666" stroke-width="0.9"/>
<text transform="translate(841.16,423.00) scale(0.7132,1)" font-family='"Liberation Sans", sans-serif' font-weight="400" font-size="18.26" fill="#111" >1</text>
<rect x="841.2" y="421.6" width="3.7" height="1.9" fill="#fff"/><rect x="846.7" y="421.6" width="2.5" height="1.9" fill="#fff"/>
<polygon points="871.0,481.8 884.3,490.4 883.2,515.8 886.8,517.0 877.1,537.6 867.3,504.7 870.9,506.0" fill="#161616"/>
<circle cx="912.1" cy="507.2" r="8.4" fill="#fff" stroke="#555" stroke-width="0.9"/>
<text transform="translate(907.21,513.50) scale(0.9762,1)" font-family='"Liberation Sans", sans-serif' font-weight="400" font-size="18.26" fill="#111" >2</text>
<polygon points="661.1,666.0 678.7,698.8 643.3,698.8" fill="#1c1c1c"/>
<text transform="translate(657.68,695.50) scale(0.7549,1)" font-family='"Liberation Sans", sans-serif' font-weight="700" font-size="28.26" fill="#fff" >!</text>
<text transform="translate(690.31,697.00) scale(0.7521,1)" x="0.00 18.02 36.25 54.93 61.58 84.40 102.79 122.59" text-anchor="middle" font-family='"Liberation Sans", sans-serif' font-weight="400" font-size="22.32" fill="#111" stroke="#111" stroke-width="0.45" xml:space="preserve">TAKE OUT</text>
</g>

<g clip-path="url(#cp3)">
<g><polygon points="131.0,972.7 676.5,713.4 689.6,713.4 131.0,978.9" fill="#eef0f2"/>
<polygon points="131.0,975.6 683.0,713.4 689.6,713.4 131.0,978.9" fill="#d2d5da"/>
<line x1="131.0" y1="962.4" x2="649.4" y2="715.2" stroke="#dcdcdc" stroke-width="1.5"/>
<line x1="131.0" y1="960.8" x2="649.4" y2="713.6" stroke="#8a8a8a" stroke-width="2.2"/>
<line x1="131.0" y1="972.7" x2="676.5" y2="713.4" stroke="#9a9a9a" stroke-width="1.0"/>
<line x1="131.0" y1="975.6" x2="683.0" y2="713.4" stroke="#a6a8ab" stroke-width="1.0"/>
<line x1="131.0" y1="978.9" x2="689.6" y2="713.4" stroke="#4a4a4a" stroke-width="1.6"/></g>
<line x1="388.3" y1="856" x2="388.3" y2="1045.5" stroke="#9a9a9a" stroke-width="0.9"/>
<line x1="391.4" y1="855" x2="391.4" y2="1045.5" stroke="#9a9a9a" stroke-width="0.9"/>
<circle cx="391.2" cy="1105.8" r="55.1" fill="#fff" stroke="#555" stroke-width="1"/>
<rect x="387" y="1045.2" width="9" height="7" rx="1.4" fill="#fff" stroke="#555" stroke-width="0.9"/>
<path d="M378 1052.8 Q391 1050.4 405 1052.8" stroke="#888" stroke-width="0.7" fill="none"/>
<g fill="none" stroke-linecap="round" stroke-linejoin="round">
<rect x="808.2" y="892" width="3.6" height="109" fill="#e2e2e2"/>
<line x1="808.2" y1="892" x2="808.2" y2="1001" stroke="#555" stroke-width="0.8"/>
<line x1="811.8" y1="892" x2="811.8" y2="1001" stroke="#555" stroke-width="0.8"/>
<rect x="806.5" y="934.6" width="7" height="4.2" fill="#fff"/>
<path d="M802.9 934.6 C803.5 934.8 805.0 935.7 806.0 936.0 C807.0 936.4 808.0 936.6 809.1 936.5 C810.2 936.3 811.5 935.3 812.6 935.2 C813.6 935.0 814.3 935.2 815.2 935.4 C816.0 935.7 817.4 936.5 817.8 936.7" stroke="#444" stroke-width="0.8"/>
<path d="M802.9 937.4 C803.5 937.6 805.0 938.5 806.0 938.8 C807.0 939.2 808.0 939.4 809.1 939.3 C810.2 939.1 811.5 938.1 812.6 938.0 C813.6 937.8 814.3 938.0 815.2 938.2 C816.0 938.5 817.4 939.3 817.8 939.5" stroke="#444" stroke-width="0.8"/>
<path d="M746.4 876.4 L872.0 868.3 L875.5 870.7 L875.5 880.8 L746.6 888.9 Z" fill="#fff" stroke="none"/>
<path d="M746.4 888.4 L746.4 876.4 L872.0 868.3 L875.5 870.7 L875.5 880.6" stroke="#2b2b2b" stroke-width="1.1"/>
<path d="M872.0 868.3 L872.0 880.1" stroke="#555" stroke-width="0.8"/>
<path d="M746.6 888.3 L876.8 880.2 Q878.5 882.0 876.8 883.9 L746.6 892.4 Q744.4 890.4 746.6 888.3 Z" fill="#fff" stroke="#2b2b2b" stroke-width="1.0"/>
<path d="M758.1 888.6 L767.6 888.0 L767.7 890.4 L758.3 891.1 Z" fill="#1a1a1a" stroke="none"/>
<path d="M860.2 881.3 L869.8 880.7 L869.9 883.2 L860.3 883.8 Z" fill="#1a1a1a" stroke="none"/>
<path d="M759.0 880.8 L759.2 887.7" stroke="#222" stroke-width="1.1"/>
<path d="M764.2 880.4 L764.4 887.4" stroke="#222" stroke-width="1.1"/>
<path d="M759.2 885.8 L764.4 885.4" stroke="#222" stroke-width="1.0"/>
<path d="M852.5 874.6 L852.7 881.0" stroke="#222" stroke-width="1.1"/>
<path d="M857.7 874.3 L857.9 880.6" stroke="#222" stroke-width="1.1"/>
<path d="M852.7 879.3 L857.9 878.8" stroke="#222" stroke-width="1.0"/>
<path d="M764.5 876.9 L768.2 876.6 L768.2 879.0 L764.5 879.3 Z" stroke="#222" stroke-width="0.8" fill="#bbb" stroke-linejoin="miter"/>
<path d="M795.1 874.5 L799.0 874.3 L799.0 875.9 L795.1 876.2 Z" stroke="#222" stroke-width="0.8" fill="#bbb" stroke-linejoin="miter"/>
<path d="M805.1 873.7 L809.5 873.4 L809.5 875.2 L805.1 875.5 Z" stroke="#222" stroke-width="0.8" fill="#bbb" stroke-linejoin="miter"/>
<path d="M841.4 877.8 L845.3 877.5 L845.3 879.9 L841.4 880.1 Z" stroke="#222" stroke-width="0.8" fill="#bbb" stroke-linejoin="miter"/>
<ellipse cx="783.5" cy="887.7" rx="1.3" ry="0.9" stroke="#555" stroke-width="0.7"/>
<ellipse cx="843.4" cy="883.9" rx="1.3" ry="0.9" stroke="#555" stroke-width="0.7"/>
<rect x="805.1" y="885.4" width="9.7" height="7.4" rx="2.6" fill="#fff" stroke="#444" stroke-width="0.9"/>
<path d="M805.8 891.1 L814.0 891.1" stroke="#777" stroke-width="0.7"/>
<circle cx="809.9" cy="1060.9" r="55.05" fill="#fff" stroke="#444" stroke-width="1"/>
<rect x="805.2" y="1000.2" width="9.5" height="7.2" rx="1.6" fill="#fff" stroke="#444" stroke-width="0.9"/>
<path d="M796 1008.2 Q810 1005.6 824 1008.2" stroke="#777" stroke-width="0.7"/>
</g>
</g>
<line x1="623.0" y1="329" x2="623.0" y2="732.4" stroke="#b4b4b4" stroke-width="2"/>
<line x1="171" y1="732.4" x2="1074.8" y2="732.4" stroke="#777" stroke-width="1.0"/>
<g fill="none" stroke="#a8a8a8" stroke-width="2">
<path d="M1075.3 329 H171 V1243.7 H1075.3"/>
</g>
<line x1="1074.6" y1="328" x2="1074.6" y2="1244.7" stroke="#858585" stroke-width="1.2"/>
<defs><clipPath id="cpsw533"><rect x="533.4" y="629.3" width="89" height="103.1"/></clipPath>
<clipPath id="cpsw986"><rect x="986.4" y="1140.5" width="88.6" height="103.1"/></clipPath></defs>
<rect x="533.4" y="629.3" width="89" height="103.1" fill="#fff" stroke="#8a8a8a" stroke-width="1.2"/>
<g clip-path="url(#cpsw533)" fill="none" stroke-linejoin="round" stroke-linecap="round">
<path d="M552.2 671.8 L564.5 664.7 L566.1 667.5 L567.2 688.0 L554.9 696.0 L552.2 695.3 Z" fill="#fff" stroke="#555" stroke-width="0.9"/>
<path d="M554.5 694.5 L553.9 674.7 L565.6 668.0" stroke="#666" stroke-width="0.8"/>
<path d="M556.1 675.1 L561.9 672.2 L567.2 687.1 L555.2 693.4 Z" fill="#b4b4b4" stroke="#666" stroke-width="0.7"/>
<path d="M555.0 675.1 L557.4 674.5 L559.2 690.0 L555.0 693.8 Z" fill="#8e8e8e" stroke="none"/>
<text x="553.1" y="662.7" font-size="7.6" fill="#3a3a3a" textLength="14.4" lengthAdjust="spacingAndGlyphs">OFF</text>
<text x="557.7" y="703.2" font-size="7.6" fill="#3a3a3a" textLength="10.6" lengthAdjust="spacingAndGlyphs">ON</text>
<path d="M561.9 674.5 L562.5 672.9 L565.2 671.8 L569.0 674.7 L576.3 681.8 L583.5 687.7 L589.0 689.5 L597.2 689.4 L603.1 689.8 L605.8 692.7 L608.1 699.1 L610.8 709.1 L613.5 716.3 L617.2 721.1 L621.2 723.8 L621.9 732.3 L602.2 732.3 L592.6 724.7 L583.5 717.4 L574.6 709.8 L573.6 705.4 L573.9 700.0 L574.5 693.8 L569.0 685.6 L564.5 678.4 L561.9 674.5 Z" fill="#fff" stroke="none"/>
<path d="M561.9 674.5 C562.0 674.3 561.9 673.4 562.5 672.9 C563.0 672.5 564.1 671.5 565.2 671.8 C566.3 672.1 567.2 673.1 569.0 674.7 C570.9 676.4 573.9 679.6 576.3 681.8 C578.7 684.0 581.4 686.4 583.5 687.7 C585.7 689.0 586.7 689.2 589.0 689.5 C591.3 689.8 594.8 689.4 597.2 689.4 C599.5 689.5 601.6 689.3 603.1 689.8 C604.5 690.3 605.0 691.2 605.8 692.7 C606.6 694.3 607.2 696.3 608.1 699.1 C608.9 701.8 609.9 706.2 610.8 709.1 C611.7 711.9 612.5 714.3 613.5 716.3 C614.6 718.3 615.9 719.8 617.2 721.1 C618.4 722.3 620.5 721.9 621.2 723.8 C622.0 725.7 621.8 730.9 621.9 732.3" stroke="#2a2a2a" stroke-width="0.95"/>
<path d="M561.9 674.5 C562.3 675.2 563.3 676.5 564.5 678.4 C565.6 680.2 567.3 683.0 569.0 685.6 C570.7 688.2 573.6 691.4 574.5 693.8 C575.3 696.2 574.1 698.0 573.9 700.0 C573.8 701.9 573.4 703.8 573.6 705.4 C573.7 707.1 573.0 707.8 574.6 709.8 C576.3 711.8 580.5 714.9 583.5 717.4 C586.5 719.9 589.5 722.2 592.6 724.7 C595.7 727.2 600.6 731.0 602.2 732.3" stroke="#2a2a2a" stroke-width="0.95"/>
<path d="M583.5 687.7 C584.5 688.4 587.5 690.5 589.0 691.8 C590.5 693.1 592.0 694.8 592.6 695.4" stroke="#555" stroke-width="0.7"/>
<path d="M590.8 690.2 C591.6 690.6 594.1 691.8 595.4 692.7 C596.6 693.7 597.6 695.4 598.1 695.9" stroke="#555" stroke-width="0.7"/>
<path d="M598.1 690.4 C598.7 690.8 600.8 691.9 601.7 692.7 C602.6 693.5 603.2 695.0 603.5 695.4" stroke="#555" stroke-width="0.7"/>
<path d="M574.9 694.1 C575.4 694.8 577.4 696.8 578.1 698.2 C578.8 699.5 578.9 701.6 579.0 702.2" stroke="#555" stroke-width="0.7"/>
<path d="M574.5 709.5 C575.1 709.1 577.3 708.5 578.1 707.2 C578.9 706.0 579.2 702.7 579.5 701.8" stroke="#555" stroke-width="0.7"/>
<path d="M563.6 673.4 C564.2 674.2 566.0 676.5 567.2 678.2 C568.4 679.9 570.2 682.7 570.8 683.6" stroke="#555" stroke-width="0.7"/>
</g>
<rect x="986.4" y="1140.5" width="88.6" height="103.1" fill="#fff" stroke="#8a8a8a" stroke-width="1.2"/>
<g clip-path="url(#cpsw986)" fill="none" stroke-linejoin="round" stroke-linecap="round">
<path d="M1002.7 1169.1 L1015.0 1162.0 L1016.6 1164.8 L1017.7 1185.3 L1005.4 1193.3 L1002.7 1192.6 Z" fill="#fff" stroke="#555" stroke-width="0.9"/>
<path d="M1005.0 1191.8 L1004.4 1172.0 L1016.1 1165.3" stroke="#666" stroke-width="0.8"/>
<path d="M1006.6 1172.4 L1012.4 1169.5 L1017.7 1184.4 L1005.7 1190.7 Z" fill="#b4b4b4" stroke="#666" stroke-width="0.7"/>
<path d="M1005.5 1172.4 L1007.9 1171.8 L1009.7 1187.3 L1005.5 1191.1 Z" fill="#8e8e8e" stroke="none"/>
<text x="1003.6" y="1160.0" font-size="7.6" fill="#3a3a3a" textLength="14.4" lengthAdjust="spacingAndGlyphs">OFF</text>
<text x="1008.2" y="1200.5" font-size="7.6" fill="#3a3a3a" textLength="10.6" lengthAdjust="spacingAndGlyphs">ON</text>
<path d="M1014.9 1185.7 L1015.5 1184.1 L1018.2 1183.0 L1022.0 1185.9 L1029.3 1193.0 L1036.5 1198.9 L1042.0 1200.7 L1050.2 1200.6 L1056.1 1201.0 L1058.8 1203.9 L1061.1 1210.3 L1063.8 1220.3 L1066.5 1227.5 L1070.2 1232.3 L1074.2 1235.0 L1074.9 1243.5 L1055.2 1243.5 L1045.6 1235.9 L1036.5 1228.6 L1027.6 1221.0 L1026.6 1216.6 L1026.9 1211.2 L1027.5 1205.0 L1022.0 1196.8 L1017.5 1189.6 L1014.9 1185.7 Z" fill="#fff" stroke="none"/>
<path d="M1014.9 1185.7 C1015.0 1185.5 1014.9 1184.6 1015.5 1184.1 C1016.0 1183.7 1017.1 1182.7 1018.2 1183.0 C1019.3 1183.3 1020.2 1184.3 1022.0 1185.9 C1023.9 1187.6 1026.9 1190.8 1029.3 1193.0 C1031.7 1195.2 1034.4 1197.6 1036.5 1198.9 C1038.7 1200.2 1039.7 1200.4 1042.0 1200.7 C1044.3 1201.0 1047.8 1200.6 1050.2 1200.6 C1052.5 1200.7 1054.6 1200.5 1056.1 1201.0 C1057.5 1201.5 1058.0 1202.4 1058.8 1203.9 C1059.6 1205.5 1060.2 1207.5 1061.1 1210.3 C1061.9 1213.0 1062.9 1217.4 1063.8 1220.3 C1064.7 1223.1 1065.5 1225.5 1066.5 1227.5 C1067.6 1229.5 1068.9 1231.0 1070.2 1232.3 C1071.4 1233.5 1073.5 1233.1 1074.2 1235.0 C1075.0 1236.9 1074.8 1242.1 1074.9 1243.5" stroke="#2a2a2a" stroke-width="0.95"/>
<path d="M1014.9 1185.7 C1015.3 1186.4 1016.3 1187.7 1017.5 1189.6 C1018.6 1191.4 1020.3 1194.2 1022.0 1196.8 C1023.7 1199.4 1026.6 1202.6 1027.5 1205.0 C1028.3 1207.4 1027.1 1209.2 1026.9 1211.2 C1026.8 1213.1 1026.4 1215.0 1026.6 1216.6 C1026.7 1218.3 1026.0 1219.0 1027.6 1221.0 C1029.3 1223.0 1033.5 1226.1 1036.5 1228.6 C1039.5 1231.1 1042.5 1233.4 1045.6 1235.9 C1048.7 1238.4 1053.6 1242.2 1055.2 1243.5" stroke="#2a2a2a" stroke-width="0.95"/>
<path d="M1036.5 1198.9 C1037.5 1199.6 1040.5 1201.7 1042.0 1203.0 C1043.5 1204.3 1045.0 1206.0 1045.6 1206.6" stroke="#555" stroke-width="0.7"/>
<path d="M1043.8 1201.4 C1044.6 1201.8 1047.1 1203.0 1048.4 1203.9 C1049.6 1204.9 1050.6 1206.6 1051.1 1207.1" stroke="#555" stroke-width="0.7"/>
<path d="M1051.1 1201.6 C1051.7 1202.0 1053.8 1203.1 1054.7 1203.9 C1055.6 1204.7 1056.2 1206.2 1056.5 1206.6" stroke="#555" stroke-width="0.7"/>
<path d="M1027.9 1205.3 C1028.4 1206.0 1030.4 1208.0 1031.1 1209.4 C1031.8 1210.7 1031.9 1212.8 1032.0 1213.4" stroke="#555" stroke-width="0.7"/>
<path d="M1027.5 1220.7 C1028.1 1220.3 1030.3 1219.7 1031.1 1218.4 C1031.9 1217.2 1032.2 1213.9 1032.5 1213.0" stroke="#555" stroke-width="0.7"/>
<path d="M1016.6 1184.6 C1017.2 1185.4 1019.0 1187.7 1020.2 1189.4 C1021.4 1191.1 1023.2 1193.9 1023.8 1194.8" stroke="#555" stroke-width="0.7"/>
</g>
<g transform="translate(1544.5,755.9) scale(1.15) translate(-809.9,-1060.9)"><g fill="none" stroke-linecap="round" stroke-linejoin="round">
<rect x="808.2" y="892" width="3.6" height="109" fill="#e2e2e2"/>
<line x1="808.2" y1="892" x2="808.2" y2="1001" stroke="#555" stroke-width="0.8"/>
<line x1="811.8" y1="892" x2="811.8" y2="1001" stroke="#555" stroke-width="0.8"/>
<rect x="806.5" y="934.6" width="7" height="4.2" fill="#fff"/>
<path d="M802.9 934.6 C803.5 934.8 805.0 935.7 806.0 936.0 C807.0 936.4 808.0 936.6 809.1 936.5 C810.2 936.3 811.5 935.3 812.6 935.2 C813.6 935.0 814.3 935.2 815.2 935.4 C816.0 935.7 817.4 936.5 817.8 936.7" stroke="#444" stroke-width="0.8"/>
<path d="M802.9 937.4 C803.5 937.6 805.0 938.5 806.0 938.8 C807.0 939.2 808.0 939.4 809.1 939.3 C810.2 939.1 811.5 938.1 812.6 938.0 C813.6 937.8 814.3 938.0 815.2 938.2 C816.0 938.5 817.4 939.3 817.8 939.5" stroke="#444" stroke-width="0.8"/>
<path d="M746.4 876.4 L872.0 868.3 L875.5 870.7 L875.5 880.8 L746.6 888.9 Z" fill="#fff" stroke="none"/>
<path d="M746.4 888.4 L746.4 876.4 L872.0 868.3 L875.5 870.7 L875.5 880.6" stroke="#2b2b2b" stroke-width="1.1"/>
<path d="M872.0 868.3 L872.0 880.1" stroke="#555" stroke-width="0.8"/>
<path d="M746.6 888.3 L876.8 880.2 Q878.5 882.0 876.8 883.9 L746.6 892.4 Q744.4 890.4 746.6 888.3 Z" fill="#fff" stroke="#2b2b2b" stroke-width="1.0"/>
<path d="M758.1 888.6 L767.6 888.0 L767.7 890.4 L758.3 891.1 Z" fill="#1a1a1a" stroke="none"/>
<path d="M860.2 881.3 L869.8 880.7 L869.9 883.2 L860.3 883.8 Z" fill="#1a1a1a" stroke="none"/>
<path d="M759.0 880.8 L759.2 887.7" stroke="#222" stroke-width="1.1"/>
<path d="M764.2 880.4 L764.4 887.4" stroke="#222" stroke-width="1.1"/>
<path d="M759.2 885.8 L764.4 885.4" stroke="#222" stroke-width="1.0"/>
<path d="M852.5 874.6 L852.7 881.0" stroke="#222" stroke-width="1.1"/>
<path d="M857.7 874.3 L857.9 880.6" stroke="#222" stroke-width="1.1"/>
<path d="M852.7 879.3 L857.9 878.8" stroke="#222" stroke-width="1.0"/>
<path d="M764.5 876.9 L768.2 876.6 L768.2 879.0 L764.5 879.3 Z" stroke="#222" stroke-width="0.8" fill="#bbb" stroke-linejoin="miter"/>
<path d="M795.1 874.5 L799.0 874.3 L799.0 875.9 L795.1 876.2 Z" stroke="#222" stroke-width="0.8" fill="#bbb" stroke-linejoin="miter"/>
<path d="M805.1 873.7 L809.5 873.4 L809.5 875.2 L805.1 875.5 Z" stroke="#222" stroke-width="0.8" fill="#bbb" stroke-linejoin="miter"/>
<path d="M841.4 877.8 L845.3 877.5 L845.3 879.9 L841.4 880.1 Z" stroke="#222" stroke-width="0.8" fill="#bbb" stroke-linejoin="miter"/>
<ellipse cx="783.5" cy="887.7" rx="1.3" ry="0.9" stroke="#555" stroke-width="0.7"/>
<ellipse cx="843.4" cy="883.9" rx="1.3" ry="0.9" stroke="#555" stroke-width="0.7"/>
<rect x="805.1" y="885.4" width="9.7" height="7.4" rx="2.6" fill="#fff" stroke="#444" stroke-width="0.9"/>
<path d="M805.8 891.1 L814.0 891.1" stroke="#777" stroke-width="0.7"/>
<circle cx="809.9" cy="1060.9" r="55.05" fill="#fff" stroke="#444" stroke-width="1"/>
<rect x="805.2" y="1000.2" width="9.5" height="7.2" rx="1.6" fill="#fff" stroke="#444" stroke-width="0.9"/>
<path d="M796 1008.2 Q810 1005.6 824 1008.2" stroke="#777" stroke-width="0.7"/>
</g></g>
<g fill="none" stroke="#8c8cc6" stroke-width="0.8">
<line x1="1470.5" y1="528.0" x2="1532" y2="524.6"/><line x1="1554.5" y1="523.3" x2="1616.5" y2="519.9"/>
<line x1="1470.5" y1="525" x2="1470.5" y2="533"/><line x1="1616.5" y1="516" x2="1616.5" y2="524"/>
<line x1="1453.5" y1="529.8" x2="1453.5" y2="544.4"/><line x1="1453.5" y1="561.7" x2="1453.5" y2="577.2"/>
<line x1="1450" y1="544.4" x2="1467" y2="544.4" stroke="#777"/><line x1="1450" y1="561.7" x2="1467" y2="561.7" stroke="#777"/>
<line x1="1612.6" y1="523.1" x2="1640.9" y2="544.4"/>
<line x1="1620.3" y1="538.6" x2="1628.7" y2="528.9" stroke="#667"/><line x1="1622.9" y1="546.9" x2="1633.2" y2="533.4" stroke="#667"/>
<line x1="1517.8" y1="561.7" x2="1517.8" y2="620"/><line x1="1517.8" y1="634.5" x2="1517.8" y2="692.4"/>
<line x1="1514.2" y1="561.5" x2="1530.3" y2="561.5" stroke="#777"/><line x1="1514.2" y1="692.4" x2="1539.3" y2="692.4" stroke="#777"/>
<line x1="1484" y1="805.6" x2="1604.9" y2="705.9"/>
</g>
<polygon points="1470.5,528.0 1479.4,526.0 1479.6,529.0" fill="#1b1b8f"/>
<polygon points="1616.5,519.9 1607.6,521.9 1607.4,518.9" fill="#1b1b8f"/>
<polygon points="1453.5,544.4 1452.0,536.4 1455.0,536.4" fill="#1b1b8f"/>
<polygon points="1453.5,561.7 1455.0,569.7 1452.0,569.7" fill="#1b1b8f"/>
<polygon points="1624.3,531.9 1617.0,528.3 1618.8,525.9" fill="#1b1b8f"/>
<polygon points="1629.9,536.1 1637.2,539.7 1635.4,542.1" fill="#1b1b8f"/>
<polygon points="1517.8,561.9 1519.3,569.9 1516.3,569.9" fill="#1b1b8f"/>
<polygon points="1517.8,692.2 1516.3,684.2 1519.3,684.2" fill="#1b1b8f"/>
<polygon points="1496.0,795.7 1491.2,801.6 1489.3,799.3" fill="#1b1b8f"/>
<polygon points="1593.0,715.7 1597.8,709.8 1599.7,712.1" fill="#1b1b8f"/>
<text transform="translate(1543.2,524.3) rotate(-3.2) scale(0.76,1)" text-anchor="middle" font-family='"Liberation Serif", serif' font-size="13.4" font-weight="700" fill="#1b1b8f" dy="0.33em">193</text>
<text transform="translate(1453.8,553.1) rotate(-90.0) scale(0.76,1)" text-anchor="middle" font-family='"Liberation Serif", serif' font-size="12.5" font-weight="700" fill="#1b1b8f" dy="0.33em">18</text>
<text transform="translate(1654.4,554.7) rotate(41.0) scale(0.8,1)" text-anchor="middle" font-family='"Liberation Serif", serif' font-size="13.2" font-weight="700" fill="#1b1b8f" dy="0.33em">16.3</text>
<text transform="translate(1518.2,627.3) rotate(-90.0) scale(0.76,1)" text-anchor="middle" font-family='"Liberation Serif", serif' font-size="12.5" font-weight="700" fill="#1b1b8f" dy="0.33em">1M</text>
<text transform="translate(1615.2,697.6) rotate(-39.5) scale(0.8,1)" text-anchor="middle" font-family='"Liberation Serif", serif' font-size="12.5" font-weight="700" fill="#1b1b8f" dy="0.33em">ø130</text>
</svg>
</body></html>
